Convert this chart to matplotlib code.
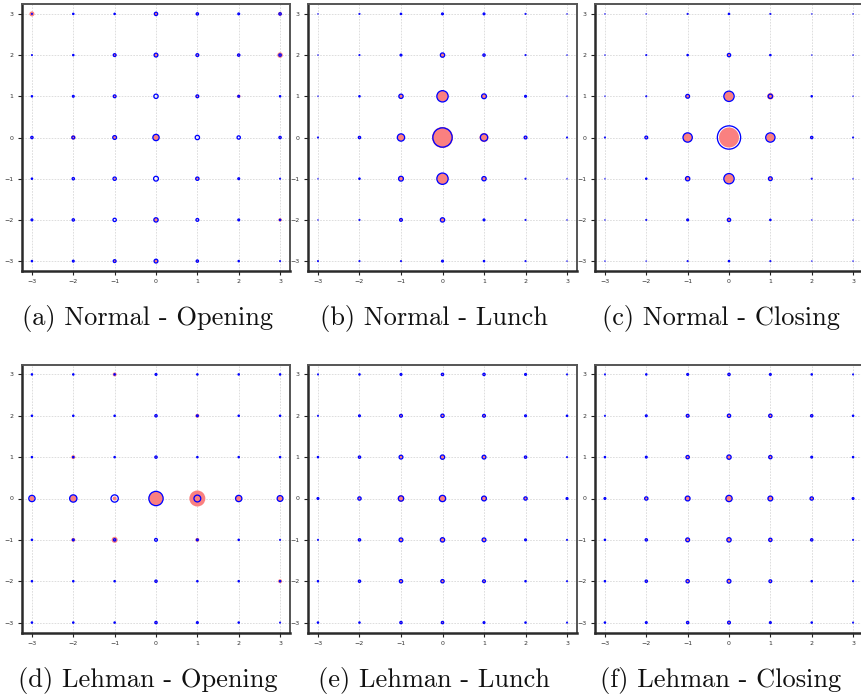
import numpy as np
import matplotlib
matplotlib.use("Agg")
import matplotlib.pyplot as plt

# grid coordinates (columns x = -3..3, rows listed from y = 3 down to y = -3)
grid_x = [-3, -2, -1, 0, 1, 2, 3]
grid_y = [3, 2, 1, 0, -1, -2, -3]
tick_values = [-3, -2, -1, 0, 1, 2, 3]

panel_titles = [
    "(a) Normal - Opening", "(b) Normal - Lunch", "(c) Normal - Closing",
    "(d) Lehman - Opening", "(e) Lehman - Lunch", "(f) Lehman - Closing",
]

# ---- observed (salmon discs) and fitted (blue rings) magnitudes per grid cell ----
normal_opening_obs = [
    [5, 1, 1, 3, 2, 1.5, 4],
    [1, 1, 3, 3.5, 2, 3, 5.5],
    [1, 1.5, 2.5, 0, 3, 3.5, 1],
    [2, 4.5, 3.5, 6, 0.5, 0, 2],
    [1, 1, 2, 0, 2.5, 1.5, 1],
    [1.5, 1.5, 0, 4, 1, 1.5, 3.5],
    [1, 1.5, 3, 3.5, 2, 1, 1],
]
normal_opening_fit = [
    [1.5, 2, 2, 4, 3, 2.5, 3],
    [1.5, 2, 3.5, 4.5, 3.5, 3, 3],
    [2, 2.5, 3.5, 5, 3.5, 2.5, 2],
    [3, 3.5, 4.5, 7, 5, 4, 3],
    [2, 3, 4, 5.5, 4, 2.5, 1.5],
    [2.5, 3, 4, 5, 3.5, 2.5, 2],
    [2, 2.5, 3.5, 4.5, 3, 2, 1.5],
]

normal_lunch_obs = [
    [0.5, 1, 1, 1.5, 1.5, 1, 0.5],
    [0.5, 1, 1.5, 4, 2, 1, 0.5],
    [0.5, 1, 4, 11, 4.5, 1.5, 0.5],
    [1, 2, 7, 21, 9, 2.5, 1],
    [0.5, 1, 4.5, 11, 4, 1, 0.5],
    [0.5, 1, 2.5, 4, 1.5, 1, 0.5],
    [1, 1, 1, 1.5, 1, 1, 0.5],
]
normal_lunch_fit = [
    [1, 1.5, 2, 2.5, 2.5, 1.5, 1],
    [1, 1.5, 2.5, 5, 3, 1.5, 1],
    [1, 2, 5, 12, 5.5, 2.5, 1],
    [1.5, 3, 8, 20, 8, 3.5, 1.5],
    [1, 2, 5.5, 12, 5, 1.5, 1],
    [1, 1.5, 3.5, 5, 2.5, 1.5, 1],
    [1.5, 1.5, 1.5, 2.5, 2, 1.5, 1],
]

normal_closing_obs = [
    [0.5, 0.5, 1, 1.5, 1, 0.5, 0.5],
    [0.5, 1, 1.5, 3, 1.5, 0.5, 0.5],
    [0.5, 1, 3.5, 9.5, 6.5, 1.5, 0.5],
    [1, 1.5, 9, 20, 8.5, 1.5, 1],
    [0.5, 1.5, 4.5, 9.5, 3.5, 1, 0.5],
    [0.5, 1, 2, 3, 1.5, 0.5, 0.5],
    [0.5, 0.5, 1, 1.5, 1, 0.5, 0.5],
]
normal_closing_fit = [
    [1, 1, 1.5, 2, 1.5, 1, 1],
    [1, 1.5, 2, 4, 2, 1, 1],
    [1, 1.5, 4.5, 11, 5, 2, 1],
    [1.5, 3.5, 10, 24, 10, 3, 1.5],
    [1, 2, 5, 11, 4.5, 1.5, 1],
    [1, 1.5, 2.5, 4, 2, 1, 1],
    [1, 1, 1.5, 2, 1.5, 1, 1],
]

lehman_opening_obs = [
    [1, 1, 4, 1.5, 1, 1, 1],
    [1, 1, 1, 2, 4, 1, 1],
    [1, 4, 1, 2, 1, 1, 1],
    [5, 7, 4, 14, 16, 6, 5.5],
    [1, 4, 6, 1, 4, 1, 1],
    [1, 1, 1, 2, 1, 1, 4],
    [1, 1, 1, 2, 1.5, 1, 1],
]
lehman_opening_fit = [
    [2, 2, 2, 2.5, 2, 2, 2],
    [2, 2, 2, 3, 2.5, 2, 2],
    [2, 2, 2, 3, 2, 2, 2],
    [7, 8, 8, 15, 7.5, 7, 6.5],
    [2, 2.5, 3, 3.5, 2.5, 2, 1.5],
    [2, 2, 2, 3, 2, 2, 2],
    [2, 2, 2, 3, 2.5, 2, 1.5],
]

lehman_lunch_obs = [
    [0.5, 1, 1.5, 2, 1.5, 1, 0.5],
    [0.5, 1.5, 2.5, 3, 2.5, 1.5, 1],
    [1, 2, 3, 4, 3.5, 2, 0.5],
    [1.5, 3, 6.5, 7, 5, 3, 1.5],
    [0.5, 2, 3.5, 4.5, 3, 1.5, 0.5],
    [1, 2, 3, 3.5, 2, 1, 0.5],
    [1, 1, 2, 2.5, 1.5, 1, 0.5],
]
lehman_lunch_fit = [
    [1.5, 2, 2.5, 3, 3, 2.5, 1.5],
    [1.5, 2.5, 3.5, 4, 3.5, 2.5, 2],
    [2, 3, 4.5, 5, 4.5, 3, 1.5],
    [2.5, 4, 6, 7, 5.5, 4, 2.5],
    [1.5, 3, 4.5, 5, 4.5, 2.5, 1.5],
    [2, 3, 4, 4, 3.5, 2, 1.5],
    [2, 2, 3, 3, 2.5, 2, 1.5],
]

lehman_closing_obs = [
    [0.5, 1, 1.5, 2.5, 1.5, 1, 0.5],
    [0.5, 1.5, 2.5, 3, 3.5, 2.5, 1],
    [1, 1.5, 3, 4, 3.5, 1.5, 1],
    [1.5, 2.5, 5, 6, 5, 3, 1.5],
    [1, 2, 4, 4, 3.5, 2.5, 0.5],
    [1, 2, 3, 3.5, 2, 1, 0.5],
    [1, 1.5, 2, 2.5, 1.5, 1, 0.5],
]
lehman_closing_fit = [
    [1.5, 2, 2.5, 3, 2.5, 2, 1.5],
    [1.5, 2.5, 3.5, 4, 4, 3, 2],
    [2, 2.5, 4, 5, 4, 2.5, 2],
    [2.5, 4, 5.5, 7, 5.5, 4, 2.5],
    [2, 3, 4.5, 5, 4, 3, 1.5],
    [2, 3, 4, 4.5, 3.5, 2, 1.5],
    [2, 2.5, 3, 3.5, 2.5, 2, 1.5],
]

panels_obs = [normal_opening_obs, normal_lunch_obs, normal_closing_obs,
              lehman_opening_obs, lehman_lunch_obs, lehman_closing_obs]
panels_fit = [normal_opening_fit, normal_lunch_fit, normal_closing_fit,
              lehman_opening_fit, lehman_lunch_fit, lehman_closing_fit]

# ---- figure layout (pixel based) ----
W, H = 861, 700
DPI = 100
fig = plt.figure(figsize=(W / DPI, H / DPI), dpi=DPI)

col_lr = [(22, 290), (308, 577), (595, 863)]
row_tb = [(4, 271), (364.5, 632.5)]
caption_y = [319, 680]

salmon = "#FA8080"
blue = "#0000FF"
px2pt = 72.0 / DPI
blue_lw_px = 1.3

X, Y = np.meshgrid(grid_x, grid_y)

for k in range(6):
    r, c = divmod(k, 3)
    l, rr = col_lr[c]
    t, b = row_tb[r]
    ax = fig.add_axes([l / W, 1 - b / H, (rr - l) / W, (b - t) / H])
    ax.set_xlim(-3.24, 3.24)
    ax.set_ylim(-3.24, 3.24)

    obs = np.asarray(panels_obs[k], dtype=float)
    fit = np.asarray(panels_fit[k], dtype=float)

    ax.grid(True, color="#d8d8d8", linestyle=(0, (2, 1.5)), linewidth=0.6, zorder=0)
    ax.set_axisbelow(True)

    s_obs = (obs * px2pt) ** 2
    ax.scatter(X.ravel(), Y.ravel(), s=s_obs.ravel(), c=salmon, linewidths=0,
               zorder=2)
    d_fit = np.maximum(fit - 0.7, 0.4)
    s_fit = (d_fit * px2pt) ** 2
    ax.scatter(X.ravel(), Y.ravel(), s=s_fit.ravel(), facecolors="none",
               edgecolors=blue, linewidths=blue_lw_px * px2pt, zorder=3)

    ax.set_xticks(tick_values)
    ax.set_yticks(tick_values)
    ax.tick_params(axis="both", labelsize=4.5, labelcolor="#333333", color="#222222",
                   length=3, width=0.8, pad=3)
    for side in ["left", "bottom"]:
        ax.spines[side].set_linewidth(1.8)
        ax.spines[side].set_color("#2a2a2a")
    for side in ["top", "right"]:
        ax.spines[side].set_linewidth(1.4)
        ax.spines[side].set_color("#555555")

    cx = ((l - 17) + rr) / 2.0
    fig.text(cx / W, 1 - caption_y[r] / H, panel_titles[k], family="cmr10",
             fontsize=19, ha="center", va="center", color="#111111")

fig.savefig("out.png", dpi=DPI)
